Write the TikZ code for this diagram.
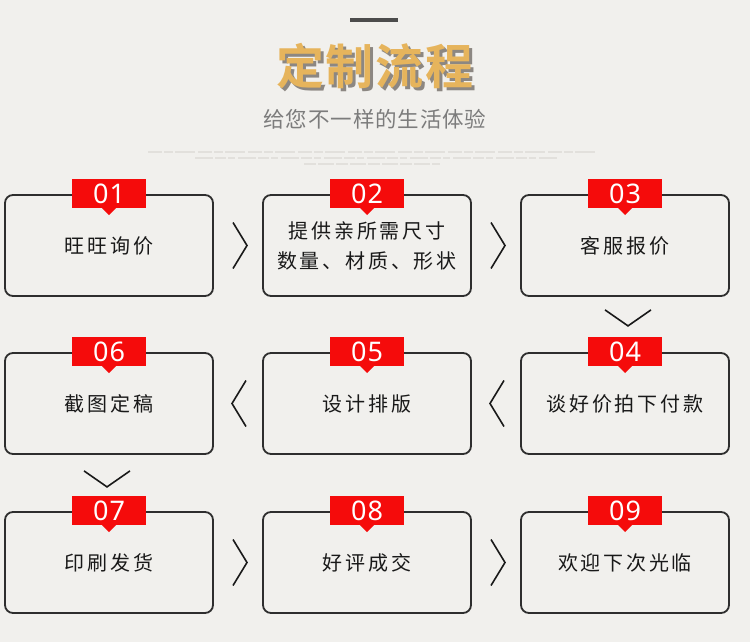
\documentclass[tikz,border=0pt]{standalone}
\usepackage{fontspec}
\usetikzlibrary{calc,shapes.geometric}
\newfontfamily\cjk{Noto Sans CJK SC}
\newfontfamily\cjkbold{Noto Sans CJK SC Bold}
\newfontfamily\numfont{Noto Sans}
\definecolor{bgc}{HTML}{F1F0ED}
\definecolor{gold}{HTML}{E6B45C}
\definecolor{shade}{HTML}{8C8782}
\definecolor{subg}{HTML}{7C7C7C}
\definecolor{boxline}{HTML}{2E2E2E}
\definecolor{badgered}{HTML}{F50B0B}
\definecolor{faint}{HTML}{E2E0DC}
\tikzset{
  stepbox/.style={draw=boxline, line width=1.8pt, rounded corners=8pt, minimum width=208pt, minimum height=101pt, inner sep=0pt, align=center, font=\cjk\fontsize{20}{30}\selectfont\addfontfeatures{LetterSpace=14}, text=black!90},
  badge/.style={fill=badgered, minimum width=74pt, minimum height=29pt, inner sep=0pt, text=white, font=\numfont\fontsize{27}{27}\selectfont\addfontfeatures{LetterSpace=4}},
  chev/.style={draw=black!90, line width=1.6pt},
}
\begin{document}
\begin{tikzpicture}[x=1pt,y=-1pt]
\fill[bgc] (0,0) rectangle (750,642);
\useasboundingbox (0,0) rectangle (750,642);
% header
\draw[line width=3.5pt, draw=black!70] (350,20) -- (398,20);
\node[text=gold, font=\cjkbold\fontsize{48}{48}\selectfont\addfontfeatures{LetterSpace=4}] (title) at (375,68) {\rlap{\hspace{3pt}\raisebox{-3pt}{\color{shade}定制流程}}定制流程};
\node[text=subg, font=\cjk\fontsize{21.5}{22}\selectfont\addfontfeatures{LetterSpace=4}] (sub) at (375,119) {给您不一样的生活体验};
\draw[faint, line width=1.8pt, dash pattern=on 14pt off 2pt on 9pt off 2pt on 20pt off 3pt] (148,152) -- (595,152);
\draw[faint, line width=1.8pt, dash pattern=on 18pt off 2pt on 11pt off 2pt on 7pt off 3pt] (195,158) -- (558,158);
\draw[faint, line width=1.8pt, dash pattern=on 12pt off 2pt on 16pt off 2pt] (304,164) -- (440,164);
% boxes
\node[stepbox] (b1) at (109,245.5) {旺旺询价};
\node[stepbox] (b2) at (367,245.5) {提供亲所需尺寸\\数量、材质、形状};
\node[stepbox] (b3) at (625,245.5) {客服报价};
\node[stepbox] (b4) at (625,403.5) {谈好价拍下付款};
\node[stepbox] (b5) at (367,403.5) {设计排版};
\node[stepbox] (b6) at (109,403.5) {截图定稿};
\node[stepbox] (b7) at (109,562.5) {印刷发货};
\node[stepbox] (b8) at (367,562.5) {好评成交};
\node[stepbox] (b9) at (625,562.5) {欢迎下次光临};
% badges
\foreach \b/\n in {b1/01,b2/02,b3/03,b4/04,b5/05,b6/06,b7/07,b8/08,b9/09}{
  \node[badge, anchor=north] (bd\n) at ($(\b.north)+(0,-15)$) {\n};
  \fill[badgered] ($(bd\n.south)+(-7,-0.5)$) -- ($(bd\n.south)+(0,6.5)$) -- ($(bd\n.south)+(7,-0.5)$) -- cycle;
}
% connectors (chevrons)
\coordinate (c12) at ($(b1.east)!0.5!(b2.west)+(2,0)$);
\coordinate (c23) at ($(b2.east)!0.5!(b3.west)+(2,0)$);
\coordinate (c78) at ($(b7.east)!0.5!(b8.west)+(2,0)$);
\coordinate (c89) at ($(b8.east)!0.5!(b9.west)+(2,0)$);
\foreach \c in {c12,c23,c78,c89}{
  \draw[chev] ($(\c)+(-7,-23)$) -- ($(\c)+(7,0)$) -- ($(\c)+(-7,23)$);
}
\coordinate (c45) at ($(b5.east)!0.5!(b4.west)+(1,0)$);
\coordinate (c56) at ($(b6.east)!0.5!(b5.west)+(1,0)$);
\foreach \c in {c45,c56}{
  \draw[chev] ($(\c)+(7,-23)$) -- ($(\c)+(-7,0)$) -- ($(\c)+(7,23)$);
}
\coordinate (c34) at ($(b3.south)+(3,21)$);
\coordinate (c67) at ($(b6.south)+(-2,24)$);
\foreach \c in {c34,c67}{
  \draw[chev] ($(\c)+(-23,-8)$) -- ($(\c)+(0,8)$) -- ($(\c)+(23,-8)$);
}
\end{tikzpicture}
\end{document}
